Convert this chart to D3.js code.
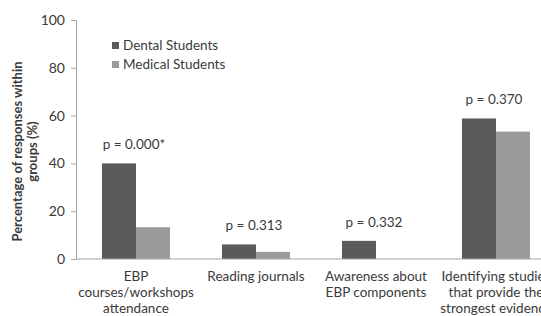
<!DOCTYPE html>
<html>
<head>
<meta charset="utf-8">
<script src="https://cdn.jsdelivr.net/npm/d3@7"></script>
<style>
  body { margin: 0; background: #fff; }
  text { font-family: Lato, "Open Sans", sans-serif; fill: #3a3a3a; }
</style>
</head>
<body>
<div id="chart"></div>
<script>
let width = 541;
let height = 316;

let categories = [
    ["EBP", "courses/workshops", "attendance"],
    ["Reading journals"],
    ["Awareness about", "EBP components"],
    ["Identifying studies", "that provide the", "strongest evidence"]
];
let seriesNames = ["Dental Students", "Medical Students"];
let dental = [40, 6.1, 7.6, 58.8];
let medical = [13.3, 3, 0, 53.3];
let pValues = ["p = 0.000*", "p = 0.313", "p = 0.332", "p = 0.370"];
let yTicks = [0, 20, 40, 60, 80, 100];

let colors = ["#5b5b5d", "#9b9b9d"];

let margin = { left: 76, top: 20, bottom: 57 };

let svg = d3.select("#chart")
    .append("svg")
    .attr("width", width)
    .attr("height", height);

let x = d3.scaleBand()
    .domain(d3.range(categories.length))
    .range([margin.left, margin.left + 480])
    .paddingInner(0.433)
    .paddingOuter(0.2165);

let xSub = d3.scaleBand()
    .domain([0, 1])
    .range([0, x.bandwidth()]);

let y = d3.scaleLinear()
    .domain([0, 100])
    .range([height - margin.bottom, margin.top]);

// y axis
let yAxis = svg.append("g")
    .attr("transform", "translate(" + margin.left + ",0)")
    .call(d3.axisLeft(y).tickValues(yTicks).tickSize(5).tickPadding(6));
yAxis.select(".domain").attr("stroke", "#a6a6a6");
yAxis.selectAll(".tick line").attr("stroke", "#a6a6a6");
yAxis.selectAll(".tick text")
    .style("font-size", "14px")
    .attr("fill", "#3a3a3a");

// bars
let groups = svg.selectAll(".grp")
    .data(categories)
    .enter()
    .append("g")
    .attr("transform", (d, i) => "translate(" + x(i) + ",0)");

[dental, medical].forEach(function (series, s) {
    groups.append("rect")
        .attr("x", xSub(s))
        .attr("width", xSub.bandwidth())
        .attr("y", (d, i) => y(series[i]))
        .attr("height", (d, i) => y(0) - y(series[i]))
        .attr("fill", colors[s]);
});

// x axis line
svg.append("line")
    .attr("x1", margin.left)
    .attr("x2", width)
    .attr("y1", y(0))
    .attr("y2", y(0))
    .attr("stroke", "#a6a6a6");

// p-value labels
groups.append("text")
    .attr("x", x.bandwidth() / 2 - 2)
    .attr("y", (d, i) => y(Math.max(dental[i], medical[i])) - 14)
    .attr("text-anchor", "middle")
    .style("font-size", "13.5px")
    .text((d, i) => pValues[i]);

// category labels
groups.each(function (lines) {
    let t = d3.select(this).append("text")
        .attr("text-anchor", "middle")
        .style("font-size", "13.5px");
    lines.forEach(function (line, k) {
        t.append("tspan")
            .attr("x", x.bandwidth() / 2)
            .attr("y", y(0) + 22 + k * 16)
            .text(line);
    });
});

// y title
let yTitle = svg.append("text")
    .attr("transform", "translate(22," + (y(50) + 12) + ") rotate(-90)")
    .attr("text-anchor", "middle")
    .style("font-size", "13px")
    .style("font-weight", "bold")
    .attr("fill", "#222");
yTitle.append("tspan").attr("x", 0).attr("y", 0).text("Percentage of responses within");
yTitle.append("tspan").attr("x", 0).attr("y", 15).text("groups (%)");

// legend
let legend = svg.selectAll(".leg")
    .data(seriesNames)
    .enter()
    .append("g")
    .attr("transform", (d, i) => "translate(112," + (46 + i * 19) + ")");
legend.append("rect")
    .attr("x", 0)
    .attr("y", -4)
    .attr("width", 7)
    .attr("height", 7)
    .attr("fill", (d, i) => colors[i]);
legend.append("text")
    .attr("x", 11)
    .attr("y", 4)
    .style("font-size", "13.5px")
    .text(d => d);
</script>
</body>
</html>
